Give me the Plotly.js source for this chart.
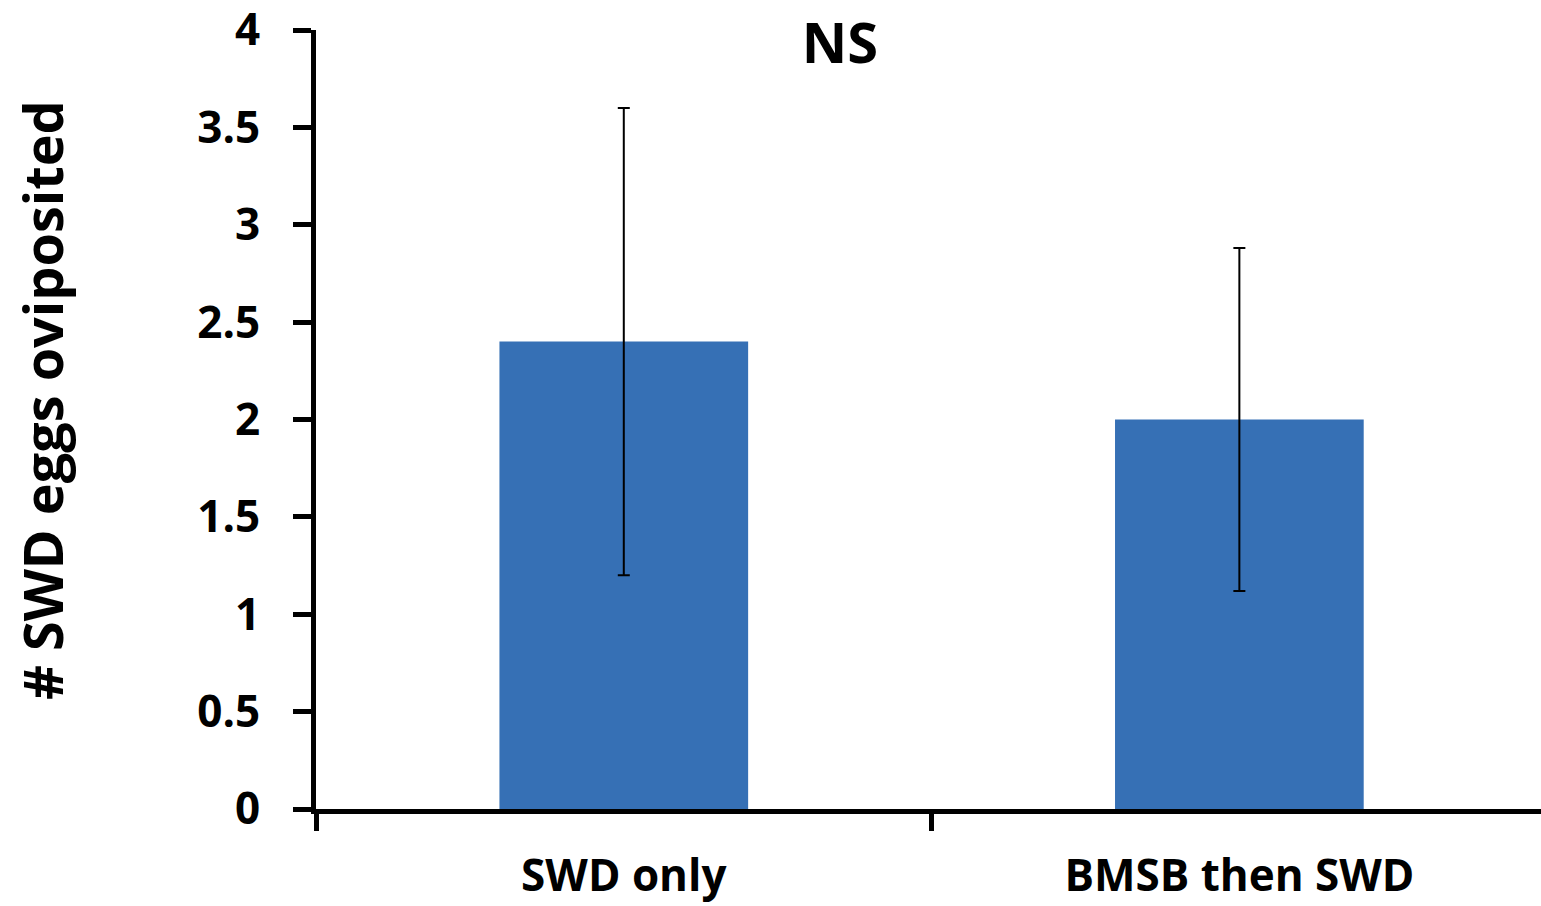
<!DOCTYPE html>
<html>
<head>
<meta charset="utf-8">
<script src="https://cdn.plot.ly/plotly-3.0.1.min.js"></script>
<style>html,body{margin:0;padding:0;background:#fff;}#chart{width:1541px;height:906px;}</style>
</head>
<body>
<div id="chart"></div>
<script>
const categories = ["SWD only", "BMSB then SWD"];
const meanEggs = [2.4, 2.0];
const errorPlus = [1.2, 0.88];
const errorMinus = [1.2, 0.88];
const yTickVals = [0, 0.5, 1, 1.5, 2, 2.5, 3, 3.5, 4];
const yTickText = ["0", "0.5", "1", "1.5", "2", "2.5", "3", "3.5", "4"];
const yTitle = "# SWD eggs oviposited";
const chartTitle = "NS";

const fontFam = "'Open Sans', 'DejaVu Sans', sans-serif";

const trace = {
  type: "bar",
  x: categories,
  y: meanEggs,
  width: 0.404,
  marker: {color: "#3670b5", line: {width: 0}},
  error_y: {
    type: "data",
    symmetric: false,
    array: errorPlus,
    arrayminus: errorMinus,
    color: "#000000",
    thickness: 2,
    width: 6
  },
  hoverinfo: "none"
};

const layout = {
  width: 1541,
  height: 906,
  margin: {l: 316, r: 0, t: 30, b: 97},
  paper_bgcolor: "#ffffff",
  plot_bgcolor: "#ffffff",
  showlegend: false,
  title: {
    text: chartTitle,
    x: 0.545, xanchor: "center",
    y: 0.952, yanchor: "middle",
    font: {family: fontFam, size: 56, weight: "bold", color: "#000000"}
  },
  xaxis: {
    type: "category",
    range: [-0.5, 1.49],
    showline: true, linecolor: "#000000", linewidth: 5,
    ticks: "outside", tickson: "boundaries", ticklen: 17, tickwidth: 5, tickcolor: "#000000",
    showgrid: false, zeroline: false,
    ticklabelstandoff: 24,
    ticklabeloverflow: "allow",
    tickfont: {family: fontFam, size: 44, weight: "bold", color: "#000000"}
  },
  yaxis: {
    range: [0, 4],
    tickmode: "array", tickvals: yTickVals, ticktext: yTickText,
    showline: true, linecolor: "#000000", linewidth: 5,
    ticks: "outside", ticklen: 18, tickwidth: 5, tickcolor: "#000000",
    showgrid: false, zeroline: false,
    ticklabelstandoff: 24,
    ticklabeloverflow: "allow",
    tickfont: {family: fontFam, size: 44, weight: "bold", color: "#000000"}
  },
  annotations: [{
    text: yTitle,
    xref: "paper", yref: "paper",
    x: (42 - 316) / 1225, y: (809 - 400) / 779,
    xanchor: "center", yanchor: "middle",
    textangle: -90, showarrow: false,
    font: {family: fontFam, size: 54, weight: "bold", color: "#000000"}
  }]
};

Plotly.newPlot("chart", [trace], layout, {displayModeBar: false, staticPlot: true});
</script>
</body>
</html>
